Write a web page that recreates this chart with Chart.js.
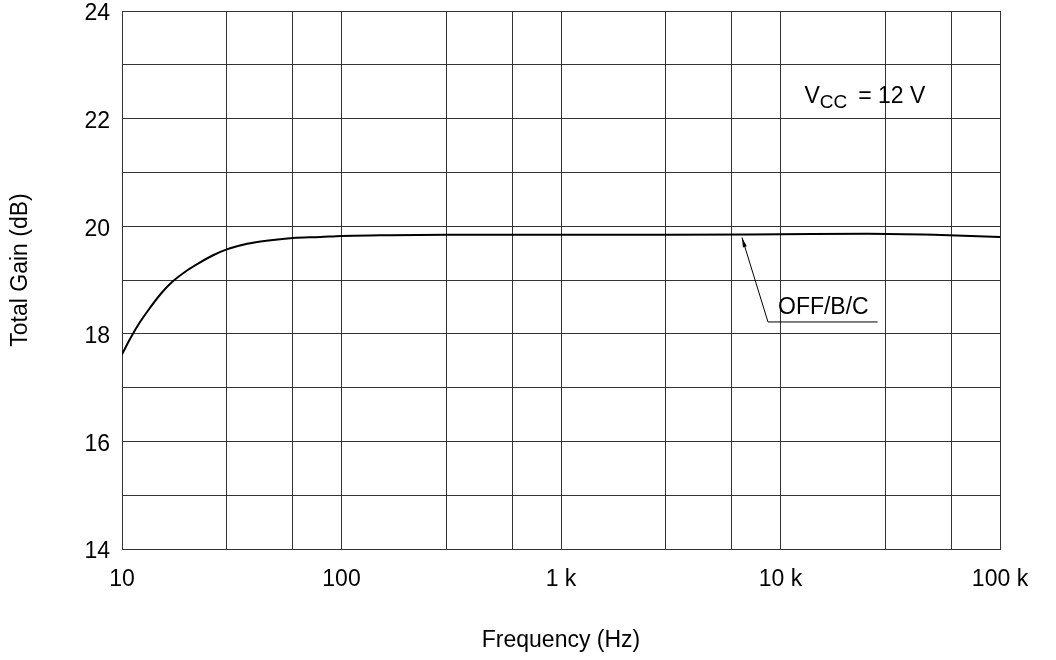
<!DOCTYPE html>
<html>
<head>
    <title>Total Gain vs Frequency</title>
    <script src="https://cdn.jsdelivr.net/npm/chart.js"></script>
    <style>
        body { margin: 0; background: #fff; }
        .gain-chart { width: 1056px; height: 660px; }
    </style>
</head>
<body>
    <div class="gain-chart">
        <canvas id="chart" width="1056" height="660"></canvas>
    </div>

    <script type="text/javascript">
        const freqs = [10, 11, 12, 13.4, 15, 17, 20, 22.5, 26, 30, 36, 42, 50, 60, 80, 100, 150, 300, 1000, 3000, 10000, 25000, 50000, 100000];
        const gains = [17.62, 17.94, 18.2, 18.48, 18.74, 18.97, 19.19, 19.32, 19.46, 19.57, 19.66, 19.71, 19.75, 19.78, 19.80, 19.82, 19.83, 19.84, 19.84, 19.84, 19.85, 19.86, 19.84, 19.80];

        const xGrid = [10, 30, 60, 100, 300, 600, 1000, 3000, 6000, 10000, 30000, 60000, 100000];
        const xLabels = {10: '10', 100: '100', 1000: '1 k', 10000: '10 k', 100000: '100 k'};
        const yLabels = [14, 16, 18, 20, 22, 24];

        const FONT = 'Liberation Sans, Arial, sans-serif';
        const GRID = '#333';

        // text annotations placed in data units
        const notes = {
            paint(chart) {
                const c = chart.ctx, x = chart.scales.x, y = chart.scales.y;
                c.save();
                c.fillStyle = '#000';
                c.strokeStyle = '#000';
                c.textBaseline = 'middle';
                c.textAlign = 'left';

                // y axis title
                c.save();
                c.font = '23px ' + FONT;
                c.translate(21, 270);
                c.rotate(-Math.PI / 2);
                c.textAlign = 'center';
                c.fillText('Total Gain (dB)', 0, 0);
                c.restore();

                // VCC = 12 V
                let vx = x.getPixelForValue(12860), vy = y.getPixelForValue(22.4);
                c.font = '23px ' + FONT;
                c.fillText('V', vx, vy);
                let w = c.measureText('V').width;
                c.font = '19px ' + FONT;
                c.fillText('CC', vx + w, vy + 6);
                w += c.measureText('CC').width;
                c.font = '23px ' + FONT;
                c.fillText('= 12 V', vx + w + 11, vy);

                // OFF/B/C leader
                let tx = x.getPixelForValue(6676), ty = y.getPixelForValue(19.79);
                let lx = x.getPixelForValue(8770), ly = y.getPixelForValue(18.22);
                let ex = x.getPixelForValue(27700);
                c.lineWidth = 1;
                c.beginPath();
                c.moveTo(ex, ly);
                c.lineTo(lx, ly);
                c.lineTo(tx, ty);
                c.stroke();
                let ang = Math.atan2(ty - ly, tx - lx);
                c.beginPath();
                c.moveTo(tx, ty);
                c.lineTo(tx - 10 * Math.cos(ang - 0.2), ty - 10 * Math.sin(ang - 0.2));
                c.lineTo(tx - 10 * Math.cos(ang + 0.2), ty - 10 * Math.sin(ang + 0.2));
                c.closePath();
                c.fill();
                c.font = '23px ' + FONT;
                c.fillText('OFF/B/C', x.getPixelForValue(9740), y.getPixelForValue(18.48));
                c.restore();
            }
        };

        const ctx = document.getElementById('chart');
        let chart = new Chart(ctx, {
            type: 'line',
            data: {
                datasets: [{
                    label: 'OFF/B/C',
                    data: freqs.map((f, i) => ({x: f, y: gains[i]})),
                    borderColor: '#000',
                    borderWidth: 2,
                    pointRadius: 0,
                    cubicInterpolationMode: 'monotone',
                    fill: false
                }]
            },
            options: {
                responsive: false,
                animation: false,
                layout: { padding: { top: 11, right: 56, left: 0, bottom: 0 } },
                plugins: { legend: { display: false }, tooltip: { enabled: false } },
                scales: {
                    x: {
                        type: 'logarithmic',
                        min: 10,
                        max: 100000,
                        afterBuildTicks: s => { s.ticks = xGrid.map(v => ({value: v})); },
                        afterFit: s => { s.height = 111; s.paddingLeft = 0; s.paddingRight = 0; },
                        ticks: {
                            autoSkip: false,
                            maxRotation: 0,
                            padding: 17,
                            color: '#000',
                            font: { family: FONT, size: 23, lineHeight: 1.2 },
                            callback: v => xLabels[v] || ''
                        },
                        grid: { color: GRID, lineWidth: 1, drawTicks: false },
                        border: { color: GRID, width: 1 },
                        title: {
                            display: true,
                            text: 'Frequency (Hz)',
                            color: '#000',
                            font: { family: FONT, size: 23, lineHeight: 1.2 },
                            padding: { top: 0, bottom: 6 }
                        }
                    },
                    y: {
                        min: 14,
                        max: 24,
                        afterFit: s => { s.width = 122; s.paddingTop = 0; s.paddingBottom = 0; },
                        ticks: {
                            stepSize: 1,
                            padding: 12,
                            labelOffset: 3,
                            color: '#000',
                            font: { family: FONT, size: 23 },
                            callback: v => yLabels.includes(v) ? String(v) : ''
                        },
                        grid: { color: GRID, lineWidth: 1, drawTicks: false },
                        border: { color: GRID, width: 1 }
                    }
                }
            },
            plugins: [{ id: 'notes', afterDatasetsDraw: notes.paint }]
        });
    </script>
</body>
</html>
